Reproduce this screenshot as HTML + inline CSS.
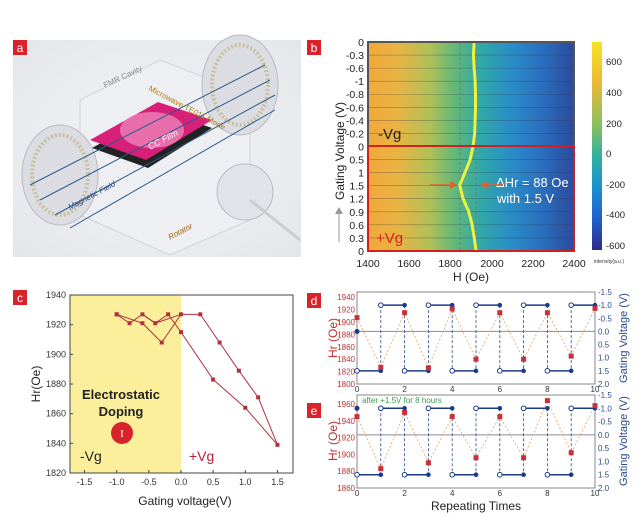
<!DOCTYPE html>
<html><head><meta charset="utf-8"><style>
html,body{margin:0;padding:0;background:#fff}
svg{display:block;font-family:"Liberation Sans",sans-serif}
</style></head><body>
<svg id="s" width="640" height="517" viewBox="0 0 640 517" xmlns="http://www.w3.org/2000/svg">
<defs>
<linearGradient id="hm" x1="0" x2="1" y1="0" y2="0">
<stop offset="0" stop-color="#f2a83a"/><stop offset="0.15" stop-color="#e8b444"/>
<stop offset="0.3" stop-color="#b0c058"/><stop offset="0.42" stop-color="#62b878"/>
<stop offset="0.55" stop-color="#30a8a8"/><stop offset="0.7" stop-color="#2a8cc8"/>
<stop offset="0.85" stop-color="#2a6ebe"/><stop offset="1" stop-color="#2c4a9c"/>
</linearGradient>
<linearGradient id="cb" x1="0" x2="0" y1="0" y2="1">
<stop offset="0" stop-color="#f8e424"/><stop offset="0.2" stop-color="#e8b834"/>
<stop offset="0.4" stop-color="#88c060"/><stop offset="0.55" stop-color="#30b0a0"/>
<stop offset="0.7" stop-color="#1a90d0"/><stop offset="0.85" stop-color="#2060cc"/>
<stop offset="1" stop-color="#2e2c88"/>
</linearGradient>
<radialGradient id="bg" cx="0.5" cy="0.5" r="0.7"><stop offset="0" stop-color="#f4f4f6"/><stop offset="1" stop-color="#e4e6ea"/></radialGradient>
</defs>

<!-- Panel a -->
<rect x="13" y="40" width="288" height="217" fill="url(#bg)"/>
<rect x="13" y="40" width="14" height="15" fill="#d8232a"/>
<text x="20" y="52" font-size="12" fill="#fff" text-anchor="middle">a</text>
<polygon points="80,100 160,60 250,95 250,220 170,255 80,215" fill="#eeeff2" stroke="#d0d2d8"/>
<ellipse cx="240" cy="85" rx="38" ry="50" fill="#dcdde2" stroke="#b8bac0"/>
<ellipse cx="240" cy="85" rx="28" ry="40" fill="none" stroke="#c8c0a0" stroke-width="4" stroke-dasharray="2 2"/>
<ellipse cx="60" cy="175" rx="38" ry="50" fill="#dcdde2" stroke="#b8bac0"/>
<ellipse cx="60" cy="175" rx="28" ry="40" fill="none" stroke="#c8c0a0" stroke-width="4" stroke-dasharray="2 2"/>
<polygon points="92,148 160,110 212,128 148,168" fill="#222"/>
<polygon points="90,140 158,102 212,120 146,160" fill="#d8207a"/>
<ellipse cx="152" cy="130" rx="32" ry="18" fill="#f090c0" opacity="0.7"/>
<g stroke="#2a5a90" stroke-width="1">
<line x1="30" y1="185" x2="265" y2="65"/><line x1="40" y1="200" x2="270" y2="80"/><line x1="55" y1="215" x2="275" y2="95"/><line x1="70" y1="228" x2="275" y2="110"/>
</g>
<ellipse cx="245" cy="192" rx="28" ry="28" fill="#e2e3e8" stroke="#b8bac0"/>
<line x1="250" y1="200" x2="300" y2="240" stroke="#ccc" stroke-width="3"/>
<text x="105" y="88" font-size="8" fill="#888" transform="rotate(-25 105 88)">FMR Cavity</text>
<text x="148" y="90" font-size="8" fill="#b08010" transform="rotate(28 148 90)">Microwave TE011 Mode</text>
<text x="70" y="210" font-size="8" fill="#2a4a80" font-style="italic" transform="rotate(-28 70 210)">Magnetic Field</text>
<text x="170" y="240" font-size="8" fill="#a06010" font-style="italic" transform="rotate(-28 170 240)">Rotator</text>
<text x="150" y="150" font-size="9" fill="#fff" font-style="italic" transform="rotate(-28 150 150)">CC Film</text>

<!-- Panel b -->
<rect x="307" y="40" width="14" height="15" fill="#d8232a"/>
<text x="314" y="52" font-size="12" fill="#fff" text-anchor="middle">b</text>
<rect x="368" y="42" width="206" height="209" fill="url(#hm)"/>
<g id="rows" stroke="#334" stroke-opacity="0.45" stroke-width="0.6"></g>
<line x1="460" y1="42" x2="460" y2="251" stroke="#777" stroke-dasharray="3 2" stroke-width="0.8"/>
<line x1="476" y1="42" x2="476" y2="251" stroke="#777" stroke-dasharray="3 2" stroke-width="0.8"/>
<polyline id="curve" fill="none" stroke="#f0f040" stroke-width="3"/>
<rect x="368" y="42" width="206" height="104" fill="none" stroke="#555" stroke-width="2"/>
<rect x="368" y="146" width="206" height="105" fill="none" stroke="#d02020" stroke-width="2"/>
<g id="bylab" font-size="10.5" fill="#222" text-anchor="end"></g>
<text x="378" y="139" font-size="15" fill="#222">-Vg</text>
<text x="376" y="243" font-size="15" fill="#d82020">+Vg</text>
<text x="496" y="187" font-size="13" fill="#fff">ΔHr = 88 Oe</text>
<text x="497" y="203" font-size="13" fill="#fff">with 1.5 V</text>
<line x1="430" y1="185" x2="455" y2="185" stroke="#e06030" stroke-width="1.5"/><polygon points="457,185 450,181 450,189" fill="#e06030"/>
<line x1="483" y1="185" x2="503" y2="185" stroke="#e06030" stroke-width="1.5"/><polygon points="480,185 487,181 487,189" fill="#e06030"/>
<line x1="339" y1="242" x2="339" y2="210" stroke="#999" stroke-width="1"/><polygon points="339,207 335,214 343,214" fill="#999"/>
<text transform="translate(344 200) rotate(-90)" font-size="12" fill="#222">Gating Voltage (V)</text>
<g font-size="10.5" fill="#222" text-anchor="middle">
<text x="368" y="267">1400</text><text x="409" y="267">1600</text><text x="450" y="267">1800</text><text x="492" y="267">2000</text><text x="533" y="267">2200</text><text x="574" y="267">2400</text>
</g>
<text x="471" y="281" font-size="12" fill="#222" text-anchor="middle">H (Oe)</text>
<rect x="592" y="42" width="10" height="208" fill="url(#cb)"/>
<g font-size="9.5" fill="#222">
<text x="606" y="65">600</text><text x="606" y="96">400</text><text x="606" y="127">200</text><text x="606" y="157">0</text><text x="606" y="188">-200</text><text x="606" y="218">-400</text><text x="606" y="249">-600</text>
</g>
<text x="594" y="263" font-size="5" fill="#333">intensity(a.u.)</text>

<!-- Panel c -->
<rect x="13" y="290" width="14" height="15" fill="#d8232a"/>
<text x="20" y="302" font-size="12" fill="#fff" text-anchor="middle">c</text>
<rect x="70" y="295" width="111" height="178" fill="#fbef9c"/>
<rect x="70" y="295" width="223" height="178" fill="none" stroke="#444" stroke-width="1"/>
<g id="ctk"></g>
<g id="cplot"></g>
<text x="121" y="399" font-size="13" fill="#222" text-anchor="middle" font-weight="bold" transform="scale(1 1)">Electrostatic</text>
<text x="121" y="416" font-size="13" fill="#222" text-anchor="middle" font-weight="bold">Doping</text>
<circle cx="122" cy="433" r="11" fill="#d8232a"/>
<text x="122" y="437" font-size="11" fill="#fff" text-anchor="middle" font-family="Liberation Serif,serif">I</text>
<text x="80" y="461" font-size="14" fill="#222">-Vg</text>
<text x="189" y="461" font-size="14" fill="#b0203a">+Vg</text>
<text transform="translate(40 384) rotate(-90)" font-size="12" fill="#222" text-anchor="middle">Hr(Oe)</text>
<text x="185" y="505" font-size="12" fill="#222" text-anchor="middle">Gating voltage(V)</text>

<!-- Panels d,e -->
<rect x="307" y="293" width="14" height="15" fill="#d8232a"/>
<text x="314" y="305" font-size="12" fill="#fff" text-anchor="middle">d</text>
<rect x="307" y="403" width="14" height="15" fill="#d8232a"/>
<text x="314" y="415" font-size="12" fill="#fff" text-anchor="middle">e</text>
<g id="de"></g>
<text x="362" y="403" font-size="8" fill="#3a9a50">after +1.5V for 8 hours</text>
<text transform="translate(337 338) rotate(-90)" font-size="12" fill="#c03030" text-anchor="middle">Hr (Oe)</text>
<text transform="translate(337 441) rotate(-90)" font-size="12" fill="#c03030" text-anchor="middle">Hr (Oe)</text>
<text transform="translate(627 338) rotate(-90)" font-size="11" fill="#2a4a8a" text-anchor="middle">Gating Voltage (V)</text>
<text transform="translate(627 441) rotate(-90)" font-size="11" fill="#2a4a8a" text-anchor="middle">Gating Voltage (V)</text>
<text x="476" y="510" font-size="12" fill="#222" text-anchor="middle">Repeating Times</text>
</svg>
<script>
var NS="http://www.w3.org/2000/svg";
function el(p,t,a,txt){var e=document.createElementNS(NS,t);for(var k in a)e.setAttribute(k,a[k]);if(txt!==undefined)e.textContent=txt;document.getElementById(p).appendChild(e);return e;}
// b rows
var labs=["0","-0.3","-0.6","-1","-0.8","-0.6","-0.4","-0.2","0","0.5","1","1.5","1.2","0.9","0.6","0.3","0"];
for(var i=0;i<17;i++){var y=42+i*13.06;if(i>0&&i<16)el("rows","line",{x1:368,x2:574,y1:y,y2:y});el("bylab","text",{x:364,y:y+4},labs[i]);}
var cp=[[1915,42],[1912,55],[1915,68],[1920,80],[1922,95],[1922,110],[1920,120],[1918,133],[1910,146],[1895,160],[1872,172],[1845,185],[1860,198],[1888,211],[1905,224],[1915,237],[1925,251]];
document.getElementById("curve").setAttribute("points",cp.map(function(p){return (368+(p[0]-1400)*0.206).toFixed(1)+","+p[1]}).join(" "));
// c
function cx(v){return 181+v*64.3} function cy(h){return 473-(h-1820)*1.483}
for(var h=1820;h<=1940;h+=20){el("ctk","text",{x:66,y:cy(h)+3,"font-size":9,fill:"#333","text-anchor":"end"},h);el("ctk","line",{x1:70,x2:73,y1:cy(h),y2:cy(h),stroke:"#444"});}
[-1.5,-1,-0.5,0,0.5,1,1.5].forEach(function(v){el("ctk","text",{x:cx(v),y:485,"font-size":9,fill:"#333","text-anchor":"middle"},v.toFixed(1));el("ctk","line",{x1:cx(v),x2:cx(v),y1:473,y2:470,stroke:"#444"});});
var lines=[[[-1,1927],[-0.8,1921],[-0.6,1927],[-0.4,1921],[-0.2,1927],[0,1915],[0.5,1883],[1,1864],[1.5,1839],[1.2,1871],[0.9,1889],[0.6,1908],[0.3,1927],[0,1927],[-0.3,1908],[-0.6,1921],[-1,1927]],[[-0.6,1927],[-0.4,1921]],[[0,1927],[-0.4,1921]]];
lines.forEach(function(L){el("cplot","polyline",{points:L.map(function(p){return cx(p[0])+","+cy(p[1])}).join(" "),fill:"none",stroke:"#b03040","stroke-width":1});});
lines[0].forEach(function(p){el("cplot","rect",{x:cx(p[0])-2,y:cy(p[1])-2,width:4,height:4,fill:"#b03040"});});
// d,e
function panel(top,bot,hmin,hmax,hstep,red){
 var L=357,R=595,W=R-L;function X(t){return L+t*W/10}
 function YL(h){return bot-(h-hmin)/(hmax-hmin)*(bot-top)} function YR(v){return top+(v+1.5)/3.5*(bot-top)}
 el("de","rect",{x:L,y:top,width:W,height:bot-top,fill:"#fff",stroke:"#888"});
 el("de","line",{x1:L,x2:R,y1:YR(0),y2:YR(0),stroke:"#8a8a9a"});
 for(var h=hmin;h<=hmax;h+=hstep){el("de","text",{x:L-2,y:YL(h)+3,"font-size":8,fill:"#c03030","text-anchor":"end"},h);}
 [-1.5,-1,-0.5,0,0.5,1,1.5,2].forEach(function(v){el("de","text",{x:R+3,y:YR(v)+3,"font-size":8,fill:"#2a4a8a"},v.toFixed(1));});
 for(var t=0;t<=10;t+=2)el("de","text",{x:X(t),y:bot+8,"font-size":8,fill:"#333","text-anchor":"middle"},t);
 for(var t=1;t<=9;t++)el("de","line",{x1:X(t),x2:X(t),y1:YR(-1),y2:YR(1.5),stroke:"#2a4a8a","stroke-dasharray":"3 2","stroke-width":0.8});
 el("de","polyline",{points:red.map(function(h,t){return X(t)+","+YL(h)}).join(" "),fill:"none",stroke:"#e8a060","stroke-dasharray":"2 2","stroke-width":0.8});
 for(var t=0;t<10;t++){var v=(t%2==0)?1.5:-1;el("de","line",{x1:X(t),x2:X(t+1),y1:YR(v),y2:YR(v),stroke:"#1a3a8a","stroke-width":1.5});
  el("de","circle",{cx:X(t),cy:YR(v),r:2.3,fill:"#fff",stroke:"#1a3a8a"});el("de","circle",{cx:X(t+1),cy:YR(v),r:2.3,fill:"#1a3a8a"});}
 red.forEach(function(h,t){el("de","rect",{x:X(t)-2.5,y:YL(h)-2.5,width:5,height:5,fill:"#c8303a"});});
}
panel(292,384,1800,1948.4,20,[1907,1827,1915,1826,1921,1840,1915,1840,1915,1845,1922]);
el("de","circle",{cx:357,cy:331.5,r:2.5,fill:"#1a3a8a"});
panel(395,488,1860,1970.7,20,[1945,1883,1950,1890,1945,1896,1945,1896,1964,1902,1958]);
el("de","circle",{cx:357,cy:408.3,r:2.5,fill:"#1a3a8a"});
</script>
</body></html>
